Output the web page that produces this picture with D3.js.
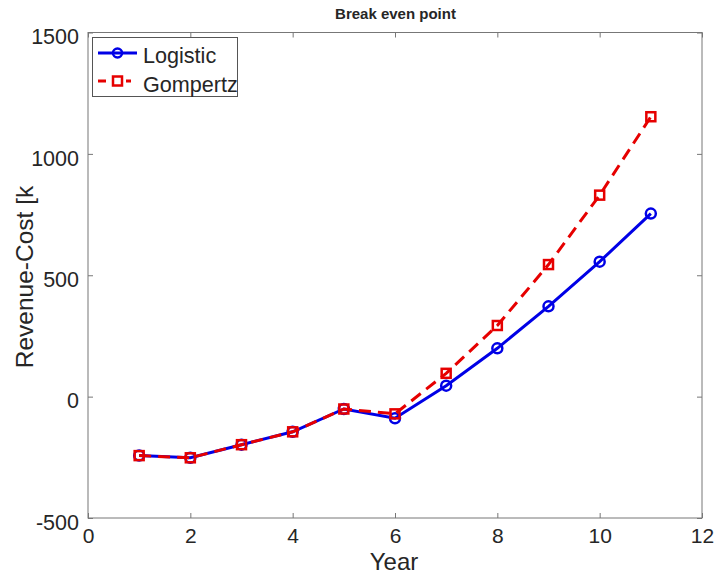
<!DOCTYPE html>
<html>
<head>
<meta charset="utf-8">
<script src="https://cdn.jsdelivr.net/npm/d3@7"></script>
<style>
  body { margin: 0; background: #fff; }
  text { font-family: "Liberation Sans", Arial, sans-serif; fill: #262626; }
</style>
</head>
<body>
<div id="chart"></div>
<script>
// values
const years = [1, 2, 3, 4, 5, 6, 7, 8, 9, 10, 11];
const logistic = [-243, -252, -198, -145, -51, -89, 45, 199, 372, 556, 754];
const gompertz = [-243, -252, -198, -145, -51, -71, 96, 293, 544, 830, 1153];
const xTicks = [0, 2, 4, 6, 8, 10, 12];
const yTicks = [-500, 0, 500, 1000, 1500];

const width = 715, height = 576;
const pLeft = 88, pRight = 702, pTop = 32.5, pBottom = 518;

const svg = d3.select("#chart").append("svg")
  .attr("width", width)
  .attr("height", height);

const x = d3.scaleLinear().domain([0, 12]).range([pLeft, pRight]);
const y = d3.scaleLinear().domain([-500, 1500]).range([pBottom, pTop]);

// box + inward ticks on all four sides
const axisColor = "#777";
svg.append("rect")
  .attr("x", pLeft).attr("y", pTop)
  .attr("width", pRight - pLeft).attr("height", pBottom - pTop)
  .attr("fill", "none").attr("stroke", axisColor).attr("stroke-width", 1);

const ax = (g) => g.call(s => s.select(".domain").remove())
  .call(s => s.selectAll(".tick line").attr("stroke", axisColor));
const fmt = d => String(d);

svg.append("g").attr("transform", `translate(0,${pBottom})`)
  .call(d3.axisBottom(x).tickValues(xTicks).tickFormat(fmt).tickSizeInner(-5).tickSizeOuter(0).tickPadding(10))
  .call(ax)
  .call(g => g.selectAll("text").attr("font-size", 21).attr("fill", "#262626")
    .attr("font-family", "Liberation Sans, Arial, sans-serif"));
svg.append("g").attr("transform", `translate(0,${pTop})`)
  .call(d3.axisTop(x).tickValues(xTicks).tickSizeInner(-5).tickSizeOuter(0).tickFormat(""))
  .call(ax);
svg.append("g").attr("transform", `translate(${pLeft},0)`)
  .call(d3.axisLeft(y).tickValues(yTicks).tickFormat(fmt).tickSizeInner(-5).tickSizeOuter(0).tickPadding(9))
  .call(ax)
  .call(g => g.selectAll("text").attr("font-size", 21.5).attr("fill", "#262626")
    .attr("dy", "0.52em")
    .attr("font-family", "Liberation Sans, Arial, sans-serif"));
svg.append("g").attr("transform", `translate(${pRight},0)`)
  .call(d3.axisRight(y).tickValues(yTicks).tickSizeInner(-5).tickSizeOuter(0).tickFormat(""))
  .call(ax);

// titles
svg.append("text")
  .attr("x", 395.5).attr("y", 19)
  .attr("text-anchor", "middle")
  .attr("font-size", 15).attr("font-weight", "bold")
  .attr("fill", "#111")
  .text("Break even point");

svg.append("text")
  .attr("x", 394).attr("y", 570)
  .attr("text-anchor", "middle")
  .attr("font-size", 24)
  .text("Year");

svg.append("text")
  .attr("transform", `translate(33,277) rotate(-90)`)
  .attr("text-anchor", "middle")
  .attr("font-size", 24.5)
  .text("Revenue-Cost [k");

// series
const line = d3.line().x(d => x(d[0])).y(d => y(d[1]));
const logData = years.map((yr, i) => [yr, logistic[i]]);
const gomData = years.map((yr, i) => [yr, gompertz[i]]);

svg.append("path").datum(logData)
  .attr("d", line).attr("fill", "none")
  .attr("stroke", "#0000e6").attr("stroke-width", 3);
svg.selectAll(".logpt").data(logData).enter().append("circle")
  .attr("class", "logpt")
  .attr("cx", d => x(d[0])).attr("cy", d => y(d[1])).attr("r", 5)
  .attr("fill", "none").attr("stroke", "#0000e6").attr("stroke-width", 2.5);

svg.append("path").datum(gomData)
  .attr("d", line).attr("fill", "none")
  .attr("stroke", "#e60000").attr("stroke-width", 3)
  .attr("stroke-dasharray", "12,7");
svg.selectAll(".gompt").data(gomData).enter().append("rect")
  .attr("class", "gompt")
  .attr("x", d => x(d[0]) - 4.5).attr("y", d => y(d[1]) - 4.5)
  .attr("width", 9).attr("height", 9)
  .attr("fill", "none").attr("stroke", "#e60000").attr("stroke-width", 2.5);

// legend
const lg = svg.append("g");
lg.append("rect")
  .attr("x", 92.5).attr("y", 37.5).attr("width", 145).attr("height", 59)
  .attr("fill", "#fff").attr("stroke", "#555").attr("stroke-width", 1);
lg.append("line").attr("x1", 98).attr("x2", 137).attr("y1", 53).attr("y2", 53)
  .attr("stroke", "#0000e6").attr("stroke-width", 3);
lg.append("circle").attr("cx", 117.5).attr("cy", 53).attr("r", 4.5)
  .attr("fill", "none").attr("stroke", "#0000e6").attr("stroke-width", 2.5);
lg.append("text").attr("x", 143).attr("y", 63).attr("font-size", 21.6).attr("fill", "#111").text("Logistic");
lg.append("line").attr("x1", 98).attr("x2", 131).attr("y1", 81).attr("y2", 81)
  .attr("stroke", "#e60000").attr("stroke-width", 3).attr("stroke-dasharray", "8,6");
lg.append("rect").attr("x", 113).attr("y", 76.5).attr("width", 9).attr("height", 9)
  .attr("fill", "#fff").attr("stroke", "#e60000").attr("stroke-width", 2.5);
lg.append("text").attr("x", 143).attr("y", 91.5).attr("font-size", 21.6).attr("fill", "#111").text("Gompertz");
</script>
</body>
</html>
